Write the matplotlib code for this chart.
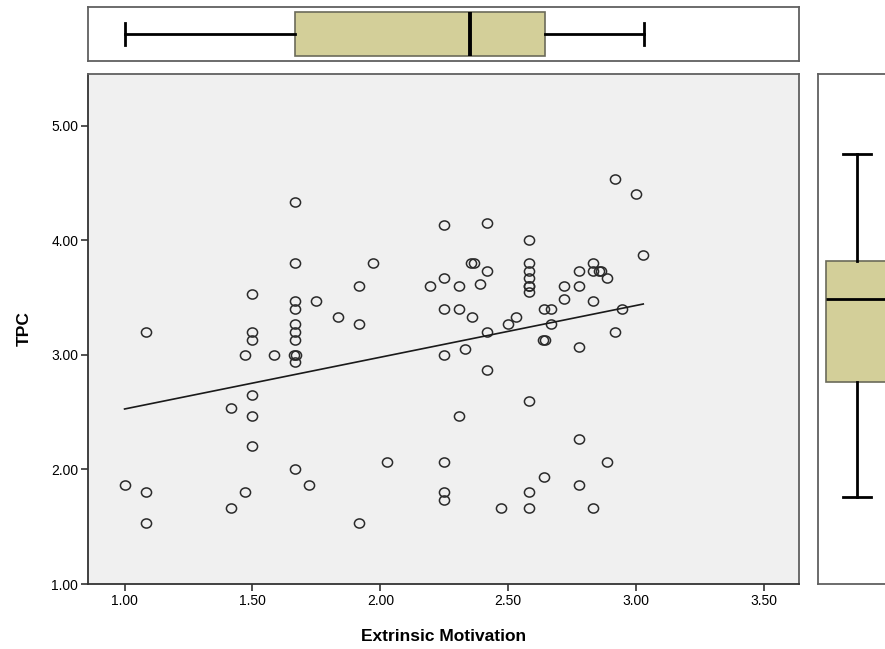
import numpy as np
import matplotlib
matplotlib.use("Agg")
from matplotlib import pyplot as plt
from matplotlib.path import Path
from matplotlib.transforms import Affine2D

plt.rcParams['font.family'] = ['Liberation Sans', 'DejaVu Sans']

# Extrinsic Motivation (x) / TPC (y)
em = [1.0,
      1.083, 1.083, 1.083,
      1.417, 1.417,
      1.47, 1.47,
      1.5, 1.5, 1.5, 1.5, 1.5, 1.5,
      1.583,
      1.667, 1.667, 1.667, 1.667, 1.667, 1.667, 1.667, 1.662, 1.671, 1.667, 1.667,
      1.72, 1.75, 1.833,
      1.917, 1.917, 1.917,
      1.971, 2.027, 2.194,
      2.25, 2.25, 2.25, 2.25, 2.25, 2.25, 2.25,
      2.306, 2.306, 2.306,
      2.333,
      2.355, 2.365, 2.36,
      2.39,
      2.417, 2.417, 2.417, 2.417,
      2.472, 2.5, 2.53,
      2.583, 2.583, 2.583, 2.583, 2.583, 2.583, 2.583, 2.583, 2.583, 2.583,
      2.636, 2.642, 2.64, 2.64,
      2.667, 2.667,
      2.72, 2.72,
      2.777, 2.777, 2.777, 2.777, 2.777,
      2.833, 2.833, 2.833, 2.833,
      2.855, 2.862,
      2.888, 2.888,
      2.917, 2.917,
      2.944, 3.0, 3.028]
tpc = [1.867,
       3.2, 1.8, 1.533,
       2.533, 1.667,
       3.0, 1.8,
       3.533, 3.2, 3.133, 2.65, 2.467, 2.2,
       3.0,
       4.333, 3.8, 3.467, 3.4, 3.267, 3.2, 3.133, 3.0, 3.0, 2.933, 2.0,
       1.867, 3.467, 3.333,
       3.6, 3.267, 1.533,
       3.8, 2.067, 3.6,
       4.133, 3.667, 3.4, 3.0, 2.067, 1.8, 1.733,
       3.6, 3.4, 2.467,
       3.05,
       3.8, 3.8, 3.333,
       3.62,
       4.15, 3.733, 3.2, 2.867,
       1.667, 3.267, 3.333,
       4.0, 3.8, 3.733, 3.667, 3.6, 3.6, 3.55, 2.6, 1.8, 1.667,
       3.133, 3.133, 3.4, 1.933,
       3.4, 3.267,
       3.6, 3.487,
       3.733, 3.6, 3.067, 2.267, 1.867,
       3.8, 3.733, 3.467, 1.667,
       3.733, 3.733,
       3.667, 2.067,
       4.533, 3.2,
       3.4, 4.4, 3.867]

# fit line end points
fit_x = [1.0, 3.028]
fit_y = [2.527, 3.443]

# marginal box plots as drawn
top_box = dict(whislo=1.00, q1=1.668, med=2.35, q3=2.645, whishi=3.03, fliers=[])
right_box = dict(whislo=1.76, q1=2.76, med=3.49, q3=3.82, whishi=4.75, fliers=[])

x_ticks = [1.0, 1.5, 2.0, 2.5, 3.0, 3.5]
y_ticks = [1.0, 2.0, 3.0, 4.0, 5.0]
xlim = (0.857, 3.637)
ylim = (1.0, 5.45)

W, H = 885, 649
fig = plt.figure(figsize=(W / 100, H / 100), dpi=100)


def px_axes(l, t, r, b):
    return fig.add_axes([l / W, 1 - b / H, (r - l) / W, (b - t) / H])


ax = px_axes(88, 74, 799, 584)
ax_top = px_axes(88, 7, 799, 61)
ax_right = px_axes(818, 74, 896, 584)

frame_col = '#606060'
box_face = '#d3cf99'

# slightly flattened circle, like the original markers
ring = Path.unit_circle().transformed(Affine2D().scale(1.0, 0.9))

# main scatter
ax.set_facecolor('#f0f0f0')
ax.plot(em, tpc, linestyle='none', marker=ring, ms=7.3, mfc='none',
        mec='#2a2a2a', mew=1.1)
ax.plot(fit_x, fit_y, color='#1a1a1a', lw=1.2)
ax.set_xlim(xlim)
ax.set_ylim(ylim)
ax.set_xticks(x_ticks)
ax.set_yticks(y_ticks)
ax.set_xticklabels(['%.2f' % v for v in x_ticks])
ax.set_yticklabels(['%.2f' % v for v in y_ticks])
ax.tick_params(direction='out', length=5, width=1.2, color='#333333',
               labelsize=10, pad=2)
for s in ax.spines.values():
    s.set_color(frame_col)
    s.set_linewidth(1.3)
ax.spines['left'].set_color('#333333')
ax.spines['bottom'].set_color('#333333')
ax.set_xlabel('Extrinsic Motivation', fontsize=12.5, fontweight='bold', labelpad=15)
ax.set_ylabel('TPC', fontsize=12.5, fontweight='bold', labelpad=14)

box_kw = dict(positions=[0], patch_artist=True, showfliers=False,
              boxprops=dict(facecolor=box_face, edgecolor='#6b6b5a', lw=1.2),
              whiskerprops=dict(color='black', lw=2),
              capprops=dict(color='black', lw=2))

# top box plot (Extrinsic Motivation)
ax_top.bxp([top_box], orientation='horizontal', widths=0.815, capwidths=0.39,
           medianprops=dict(color='black', lw=2.8), **box_kw)
ax_top.set_xlim(xlim)
ax_top.set_ylim(-0.5, 0.5)

# right box plot (TPC)
ax_right.bxp([right_box], orientation='vertical', widths=0.795, capwidths=0.37,
             medianprops=dict(color='black', lw=2), **box_kw)
ax_right.set_ylim(ylim)
ax_right.set_xlim(-0.5, 0.5)

for a in (ax_top, ax_right):
    a.set_xticks([])
    a.set_yticks([])
    a.set_facecolor('white')
    for s in a.spines.values():
        s.set_color(frame_col)
        s.set_linewidth(1.3)

fig.savefig('out.png', dpi=100)
